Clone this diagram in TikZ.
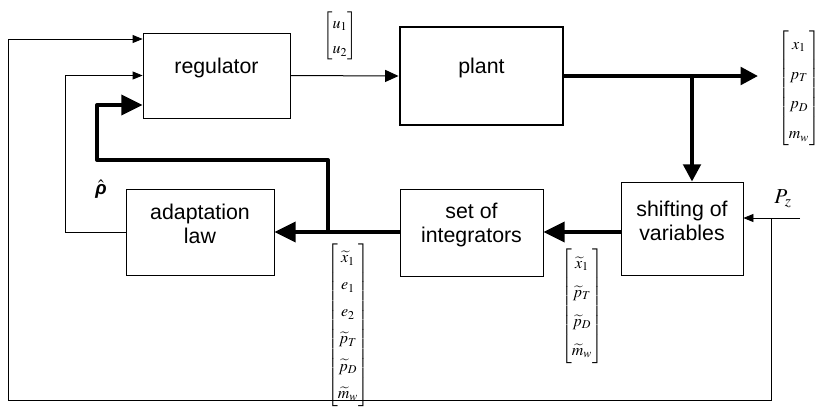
\documentclass[tikz,border=0pt]{standalone}
\usepackage{amsmath}
\usepackage{mathptmx}
\usepackage{fontspec}
\setmainfont{Liberation Sans}
\usetikzlibrary{arrows.meta,fit}
\begin{document}
\begin{tikzpicture}[x=0.75pt,y=-0.75pt,
  box/.style={draw, line width=0.6pt, inner sep=0pt, align=center, font=\fontsize{16}{18}\selectfont},
  thickbox/.style={box, line width=2.2pt},
  thin/.style={line width=0.6pt},
  thinarrow/.style={thin, -{Triangle[length=7.5pt,width=6pt]}},
  midarrow/.style={line width=0.75pt, -{Triangle[length=10pt,width=9pt]}},
  thk/.style={line width=3pt, line join=round},
  thkarrow/.style={thk, -{Triangle[length=16pt,width=15pt]}},
  outarrow/.style={thk, -{Triangle[length=13pt,width=13pt]}},
  vec/.style={inner sep=0pt, font=\fontsize{12}{14}\selectfont}
]
\useasboundingbox (0,0) rectangle (818,412);

% blocks
\node[box, fit={(143,33)(290,118)}] (reg) {regulator};
\node[thickbox, fit={(400,27)(563,125)}] (plant) {plant};
\node[box, fit={(621,182)(743,275)}] (shift) {shifting of\\variables};
\node[box, fit={(400,189)(543,276)}] (integ) {set of\\integrators};
\node[box, fit={(126,189)(274,275)}] (adapt) {adaptation\\law};

% labels
\node[vec] (u) at (340,36) {$\def\arraystretch{1.35}\begin{bmatrix} u_1\\ u_2\end{bmatrix}$};
\node[vec] (y) at (799,88) {$\def\arraystretch{1.6}\begin{bmatrix} x_1\\ p_T\\ p_D\\ m_w\end{bmatrix}$};
\node[vec] (v1) at (582,306) {$\def\arraystretch{1.55}\begin{bmatrix} \widetilde{x}_1\\ \widetilde{p}_T\\ \widetilde{p}_D\\ \widetilde{m}_w\end{bmatrix}$};
\node[vec] (v2) at (348,325) {$\def\arraystretch{1.45}\begin{bmatrix} \widetilde{x}_1\\ e_1\\ e_2\\ \widetilde{p}_T\\ \widetilde{p}_D\\ \widetilde{m}_w\end{bmatrix}$};
\node[inner sep=0pt, font=\fontsize{14}{16}\selectfont] (rho) at (101,189) {$\hat{\text{\bfseries\itshape ρ}}$};
\node[inner sep=0pt, font=\fontsize{16}{18}\selectfont] (pzl) at (783,199) {$P_z$};

% coordinates
\coordinate (out) at (758,76);
\coordinate (br) at (692,76);
\coordinate (pz) at (800,218);
\coordinate (pzb) at (771,218);
\coordinate (c1) at (771,400);
\coordinate (c2) at (8,400);
\coordinate (c3) at (8,39);
\coordinate (a1) at (65,232);
\coordinate (m) at (0,232);
\coordinate (b1) at (328,232);
\coordinate (b2) at (328,160);
\coordinate (b3) at (97,160);
\coordinate (b4) at (97,105);

% connectors
\draw[midarrow] (reg.east) -- (plant.west);
\draw[outarrow] (plant.east) -- (out);
\draw[outarrow] (br) -- (br |- shift.north);
\draw[thinarrow] (pz) -- (shift.east |- pz);
\draw[thinarrow] (pzb) -- (c1) -- (c2) -- (c3) -- (c3 -| reg.west);
\draw[thinarrow] (adapt.west) -- (a1) |- (reg.west);
\draw[thkarrow] (shift.west |- m) -- (integ.east |- m);
\draw[thkarrow] (integ.west |- m) -- (adapt.east |- m);
\draw[thkarrow] (b1) -- (b2) -- (b3) -- (b4) -- (b4 -| reg.west);
\end{tikzpicture}
\end{document}
